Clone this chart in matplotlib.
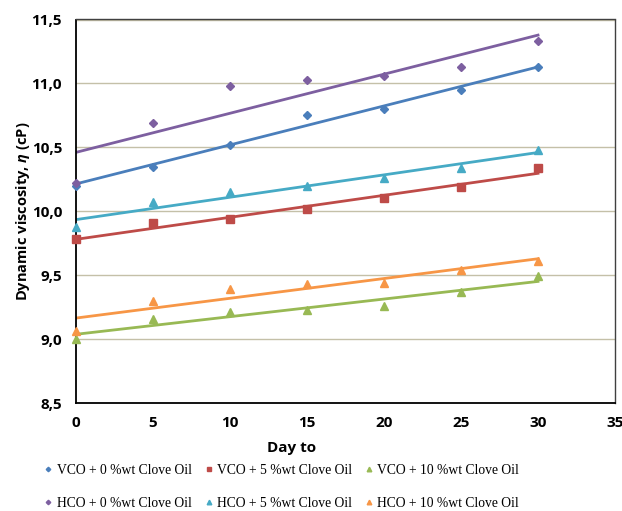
import numpy as np
import matplotlib
matplotlib.use("Agg")
import matplotlib.pyplot as plt

plt.rcParams["mathtext.fontset"] = "custom"
plt.rcParams["mathtext.it"] = "Open Sans:italic:bold"
plt.rcParams["mathtext.rm"] = "Open Sans:bold"

days = [0, 5, 10, 15, 20, 25, 30]
vco_0 = [10.20, 10.35, 10.52, 10.75, 10.80, 10.95, 11.13]
vco_5 = [9.78, 9.905, 9.94, 10.015, 10.10, 10.19, 10.34]
vco_10 = [9.00, 9.16, 9.21, 9.225, 9.26, 9.365, 9.49]
hco_0 = [10.22, 10.69, 10.98, 11.03, 11.06, 11.125, 11.33]
hco_5 = [9.88, 10.07, 10.15, 10.20, 10.26, 10.34, 10.48]
hco_10 = [9.065, 9.30, 9.39, 9.43, 9.44, 9.54, 9.61]

labels = ["VCO + 0 %wt Clove Oil", "VCO + 5 %wt Clove Oil", "VCO + 10 %wt Clove Oil",
          "HCO + 0 %wt Clove Oil", "HCO + 5 %wt Clove Oil", "HCO + 10 %wt Clove Oil"]
series = [vco_0, vco_5, vco_10, hco_0, hco_5, hco_10]
colors = ["#4a7ebb", "#be4b48", "#98b954", "#7d5fa0", "#46aac5", "#f79646"]
markers = ["D", "s", "^", "D", "^", "^"]
msizes = [3.8, 5.5, 5.5, 3.8, 5.5, 5.5]

xticks = [0, 5, 10, 15, 20, 25, 30, 35]
yticks = [8.5, 9.0, 9.5, 10.0, 10.5, 11.0, 11.5]

fig = plt.figure(figsize=(6.22, 5.11), dpi=100)
ax = fig.add_axes([76/622, 1-403/511, (615-76)/622, (403-19.5)/511])

x = np.array(days, dtype=float)
handles = []
for ys, c, m, ms, lab in zip(series, colors, markers, msizes, labels):
    y = np.array(ys)
    k, b = np.polyfit(x, y, 1)
    ax.plot([x[0], x[-1]], [b + k*x[0], b + k*x[-1]], color=c, lw=2, zorder=2)
    h, = ax.plot(x, y, linestyle="none", marker=m, color=c, ms=ms, mec=c, zorder=3, label=lab,
                 clip_on=False)
    handles.append(h)

ax.set_xlim(0, 35)
ax.set_ylim(8.5, 11.5)
ax.set_xticks(xticks)
ax.set_yticks(yticks)
ax.set_yticklabels([f"{v:.1f}".replace(".", ",") for v in yticks])
ax.tick_params(length=0, labelsize=11)
ax.tick_params(axis="x", pad=9)
ax.tick_params(axis="y", pad=10)
for lbl in ax.get_xticklabels() + ax.get_yticklabels():
    lbl.set_fontweight("bold")
    lbl.set_fontfamily("Open Sans")
ax.grid(axis="y", color="#c4c0a8", lw=1)
ax.set_axisbelow(True)
for s in ["left", "bottom"]:
    ax.spines[s].set_color("black")
    ax.spines[s].set_linewidth(1.3)
for s in ["top", "right"]:
    ax.spines[s].set_color("#404040")
    ax.spines[s].set_linewidth(1)

ax.set_xlabel("Day to", fontsize=11, fontweight="bold", family="Open Sans")
ax.xaxis.set_label_coords((292-76)/539, -0.1)
ax.set_ylabel("Dynamic viscosity, $\\eta$ (cP)", fontsize=10.5, fontweight="bold", family="Open Sans")
ax.yaxis.set_label_coords((32-76)/539, 0.5)

order = [0, 3, 1, 4, 2, 5]
leg = fig.legend(handles=[handles[i] for i in order], loc="center",
                 bbox_to_anchor=(282/622, 1-487/511), ncol=3,
                 frameon=False, prop={"family": "Liberation Serif", "size": 9.8},
                 handlelength=0.5, handletextpad=0.35, columnspacing=1.0, markerscale=0.6,
                 labelspacing=1.45)

fig.savefig("out.png", dpi=100)
